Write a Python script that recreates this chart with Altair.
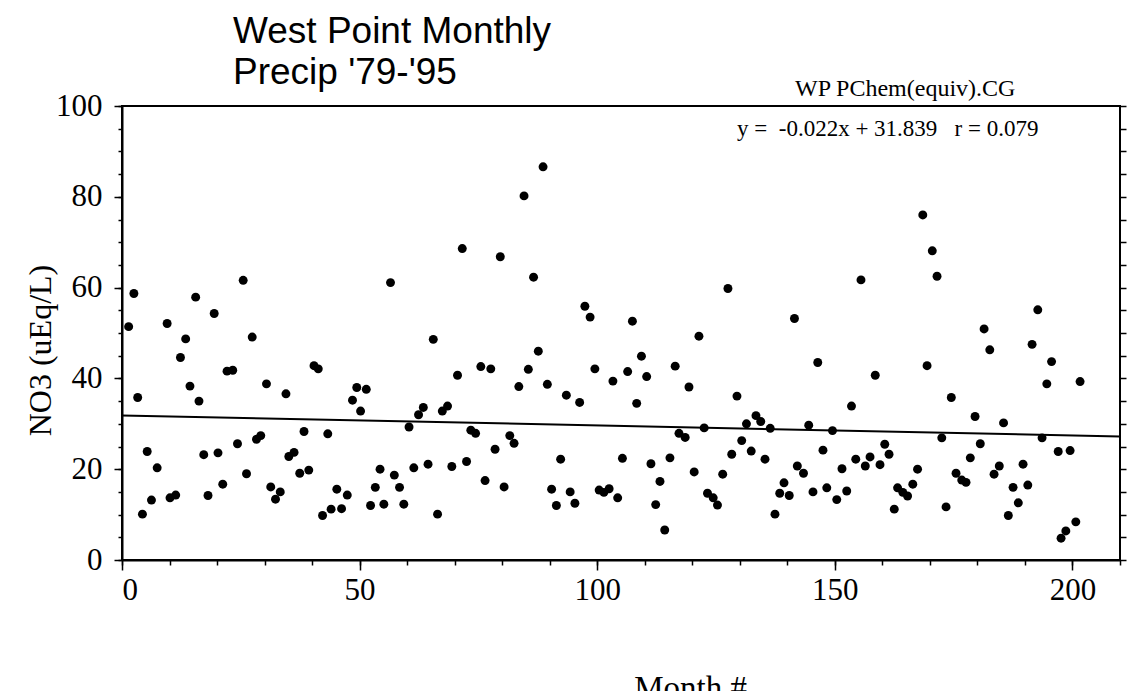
import altair as alt
import pandas as pd

# ---- data ----
months = [1.4, 2.5, 3.3, 4.3, 5.3, 6.2, 7.4, 9.5, 10.1, 11.3, 12.3, 13.4, 14.3, 15.5, 16.2,
          17.2, 18.1, 19.4, 20.2, 21.2, 22.1, 23.3, 24.3, 25.5, 26.2, 27.4, 28.3, 29.2, 30.4,
          31.3, 32.3, 33.3, 34.5, 35.1, 36.2, 37.4, 38.3, 39.3, 40.4, 41.3, 42.2, 43.3, 44.0,
          45.2, 46.2, 47.4, 48.5, 49.4, 50.2, 51.4, 52.3, 53.3, 54.3, 55.1, 56.5, 57.3, 58.4,
          59.3, 60.4, 61.4, 62.4, 63.4, 64.4, 65.5, 66.4, 67.4, 68.5, 69.4, 70.6, 71.6, 72.5,
          73.4, 74.4, 75.5, 76.4, 77.6, 78.5, 79.6, 80.4, 81.6, 82.5, 83.5, 84.6, 85.5, 86.6,
          87.6, 88.6, 89.5, 90.4, 91.4, 92.3, 93.5, 94.3, 95.3, 96.3, 97.4, 98.5, 99.5, 100.4,
          101.4, 102.5, 103.3, 104.3, 105.3, 106.4, 107.4, 108.3, 109.3, 110.4, 111.3, 112.3,
          113.2, 114.2, 115.3, 116.4, 117.2, 118.5, 119.3, 120.4, 121.4, 122.5, 123.2, 124.4,
          125.3, 126.4, 127.5, 128.3, 129.4, 130.4, 131.4, 132.4, 133.4, 134.4, 135.3, 136.4,
          137.4, 138.4, 139.3, 140.4, 141.5, 142.1, 143.4, 144.5, 145.4, 146.4, 147.5, 148.3,
          149.5, 150.4, 151.5, 152.5, 153.5, 154.4, 155.5, 156.4, 157.4, 158.5, 159.5, 160.5,
          161.4, 162.5, 163.2, 164.3, 165.3, 166.4, 167.4, 168.5, 169.4, 170.5, 171.5, 172.5,
          173.4, 174.5, 175.5, 176.7, 177.6, 178.5, 179.5, 180.6, 181.4, 182.6, 183.5, 184.6,
          185.5, 186.5, 187.5, 188.6, 189.6, 190.6, 191.5, 192.7, 193.6, 194.6, 195.6, 197.0,
          197.6, 198.6, 199.5, 200.7, 201.6]
no3 = [51.4, 58.7, 35.8, 10.1, 23.9, 13.2, 20.3, 52.1, 13.7, 14.3, 44.6, 48.7, 38.3, 57.9, 35.0,
       23.2, 14.2, 54.3, 23.6, 16.7, 41.6, 41.8, 25.6, 61.6, 19.0, 49.1, 26.6, 27.4, 38.8,
       16.1, 13.4, 15.0, 36.6, 22.8, 23.7, 19.1, 28.3, 19.8, 42.8, 42.1, 9.8, 27.8, 11.2,
       15.6, 11.3, 14.3, 35.2, 38.0, 32.8, 37.6, 12.0, 16.0, 20.0, 12.3, 61.1, 18.7, 16.0,
       12.3, 29.3, 20.3, 32.0, 33.6, 21.1, 48.6, 10.1, 32.8, 33.9, 20.6, 40.7, 68.6, 21.7,
       28.6, 27.9, 42.6, 17.5, 42.1, 24.4, 66.8, 16.1, 27.4, 25.7, 38.2, 80.2, 42.0, 62.3,
       46.0, 86.6, 38.7, 15.6, 12.0, 22.2, 36.3, 15.0, 12.5, 34.7, 55.9, 53.5, 42.1, 15.4,
       14.9, 15.7, 39.4, 13.7, 22.4, 41.5, 52.6, 34.5, 44.9, 40.4, 21.2, 12.2,
       17.3, 6.6, 22.5, 42.7, 27.9, 27.0, 38.1, 19.4, 49.3, 29.1, 14.7, 13.7,
       12.1, 18.9, 59.8, 23.3, 36.1, 26.3, 30.0, 24.0, 31.8, 30.5, 22.2, 29.0,
       10.1, 14.7, 17.0, 14.2, 53.2, 20.7, 19.1, 29.7, 15.0, 43.5, 24.2, 15.9,
       28.5, 13.3, 20.1, 15.2, 33.9, 22.2, 61.7, 20.7, 22.7, 40.7, 21.0, 25.5,
       23.3, 11.2, 15.9, 14.9, 14.1, 16.7, 20.0, 76.0, 42.8, 68.1, 62.5, 26.9,
       11.7, 35.8, 19.1, 17.6, 17.1, 22.5, 31.6, 25.6, 50.9, 46.3, 18.9, 20.7,
       30.2, 9.8, 16.0, 12.6, 21.1, 16.5, 47.5, 55.1, 26.9, 38.8, 43.7, 23.9,
       4.8, 6.4, 24.1, 8.4, 39.3]

slope = -0.022
intercept = 31.839
r_value = 0.079
x_domain = [0, 210]
y_domain = [0, 100]
x_major = [0, 50, 100, 150, 200]
x_minor = list(range(0, 211, 10))
y_major = [0, 20, 40, 60, 80, 100]
y_minor = list(range(0, 101, 5))
title_lines = ["West Point Monthly", "Precip '79-'95"]
file_label = "WP PChem(equiv).CG"
x_title = "Month #"
y_title = "NO3 (uEq/L)"

SERIF = "Liberation Serif"
SANS = "Liberation Sans"

pts = pd.DataFrame({"month": months, "no3": no3})
fit = pd.DataFrame({"month": x_domain,
                    "no3": [intercept + slope * x for x in x_domain]})
nb = "\u00a0"
eq_label = f"y ={nb*2}{slope}x + {intercept}{nb*3}r = {r_value}"
notes = pd.DataFrame({"t": [eq_label]})
files = pd.DataFrame({"t": [file_label]})

xs = alt.Scale(domain=x_domain, nice=False, zero=False)
ys = alt.Scale(domain=y_domain, nice=False)

points = alt.Chart(pts).mark_circle(size=80, color="black", opacity=1).encode(
    x=alt.X("month:Q", scale=xs,
            axis=alt.Axis(orient="bottom", values=x_major, tickSize=10, labelPadding=5,
                          title=x_title, titleX=568, titleY=138,
                          titleBaseline="alphabetic", titleAlign="center",
                          titleFont=SERIF, titleFontSize=33, titleFontWeight="normal")),
    y=alt.Y("no3:Q", scale=ys,
            axis=alt.Axis(orient="left", values=y_major, tickSize=8, labelPadding=12,
                          title=y_title, titleX=-82, titleY=244, titleAngle=270,
                          titleBaseline="middle", titleAlign="center",
                          titleFont=SERIF, titleFontSize=32, titleFontWeight="normal")),
)

line = alt.Chart(fit).mark_line(color="black", strokeWidth=2).encode(
    x=alt.X("month:Q", scale=xs,
            axis=alt.Axis(orient="bottom", values=x_minor, tickSize=5, labels=False,
                          domain=False, title=None)),
    y=alt.Y("no3:Q", scale=ys,
            axis=alt.Axis(orient="left", values=y_minor, tickSize=4, labels=False,
                          domain=False, title=None)),
)

right = alt.Chart(pts).mark_circle(opacity=0).encode(
    x=alt.X("month:Q", scale=xs, axis=None),
    y=alt.Y("no3:Q", scale=ys,
            axis=alt.Axis(orient="right", values=y_minor, tickSize=6, labels=False,
                          domain=False, title=None)),
)

eq_text = alt.Chart(notes).mark_text(
    font=SERIF, fontSize=23, align="left", baseline="alphabetic", color="black"
).encode(x=alt.value(615), y=alt.value(30), text="t:N")

file_text = alt.Chart(files).mark_text(
    font=SERIF, fontSize=24, align="left", baseline="alphabetic", color="black"
).encode(x=alt.value(673), y=alt.value(-10), text="t:N")

chart = alt.layer(points, line, right, eq_text, file_text).resolve_axis(
    x="independent", y="independent"
).properties(
    width=998, height=454,
    autosize=alt.AutoSizeParams(type="none"),
    padding={"left": 122, "top": 106, "right": 10, "bottom": 131},
    title=alt.TitleParams(text=title_lines, anchor="start", frame="group", dx=111,
                          font=SANS, fontSize=37, fontWeight="normal", color="black",
                          lineHeight=41, offset=-15),
).configure_view(
    stroke="black", strokeWidth=2
).configure_axis(
    labelFont=SERIF, labelFontSize=31, labelColor="black",
    tickColor="black", tickWidth=1.5, domainColor="black", domainWidth=2,
    grid=False, titleColor="black"
)

chart.save("out.html", embed_options={"renderer": "svg", "actions": False})
